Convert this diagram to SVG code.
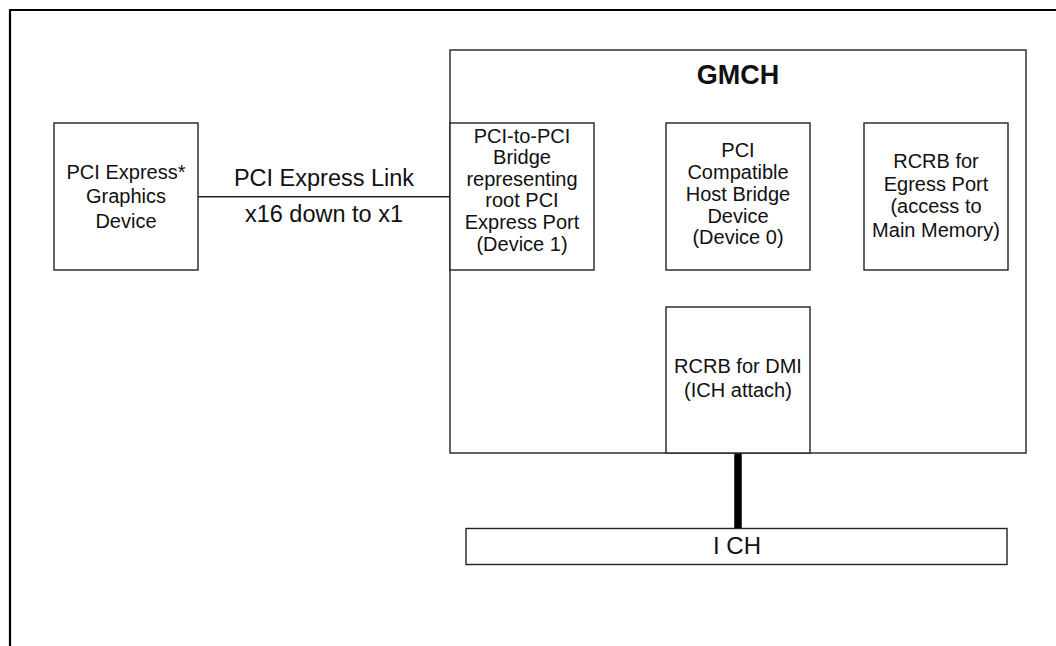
<svg xmlns="http://www.w3.org/2000/svg" width="1056" height="646" viewBox="0 0 1056 646">
<style>
.box{fill:#fff;stroke:#222;stroke-width:1.4}
.t{font-family:"Liberation Sans",Arial,sans-serif;fill:#111;text-anchor:middle}
.s20{font-size:20px}
</style>
<rect width="1056" height="646" fill="#fff"/>
<path d="M10 646 V10 H1056" fill="none" stroke="#000" stroke-width="2.2"/>
<g id="gmch">
<rect class="box" x="450" y="50" width="576" height="403"/>
<text class="t" x="738" y="84" font-size="27" font-weight="bold">GMCH</text>
</g>
<g id="gfx">
<rect class="box" x="54" y="123" width="144" height="147"/>
<text class="t s20" x="126" y="179">PCI Express*</text>
<text class="t s20" x="126" y="203">Graphics</text>
<text class="t s20" x="126" y="227.5">Device</text>
</g>
<g id="p2p">
<rect class="box" x="450" y="123" width="144" height="147"/>
<text class="t s20" x="522" y="142.5">PCI-to-PCI</text>
<text class="t s20" x="522" y="164">Bridge</text>
<text class="t s20" x="522" y="185.7">representing</text>
<text class="t s20" x="522" y="207.3">root PCI</text>
<text class="t s20" x="522" y="229">Express Port</text>
<text class="t s20" x="522" y="250.7">(Device 1)</text>
</g>
<g id="hostbridge">
<rect class="box" x="666" y="123" width="144" height="147"/>
<text class="t s20" x="738" y="157.3">PCI</text>
<text class="t s20" x="738" y="179">Compatible</text>
<text class="t s20" x="738" y="200.7">Host Bridge</text>
<text class="t s20" x="738" y="222.5">Device</text>
<text class="t s20" x="738" y="244">(Device 0)</text>
</g>
<g id="egress">
<rect class="box" x="864" y="123" width="144" height="147"/>
<text class="t s20" x="936" y="168.3">RCRB for</text>
<text class="t s20" x="936" y="190.7">Egress Port</text>
<text class="t s20" x="936" y="213.3">(access to</text>
<text class="t s20" x="936" y="236.7">Main Memory)</text>
</g>
<g id="dmi">
<rect class="box" x="666" y="307" width="144" height="146"/>
<text class="t s20" x="738" y="373.3">RCRB for DMI</text>
<text class="t s20" x="738" y="396.7">(ICH attach)</text>
</g>
<g id="ich">
<rect class="box" x="466" y="528.5" width="541" height="36"/>
<text class="t" x="737" y="554" font-size="24">I CH</text>
</g>
<g id="connectors">
<line x1="198" y1="196.7" x2="450" y2="196.7" stroke="#222" stroke-width="1.4"/>
<line x1="738" y1="453.7" x2="738" y2="528" stroke="#000" stroke-width="7.5"/>
<text class="t" x="324" y="185.7" font-size="23.5">PCI Express Link</text>
<text class="t" x="324" y="221.7" font-size="23.5">x16 down to x1</text>
</g>
</svg>
